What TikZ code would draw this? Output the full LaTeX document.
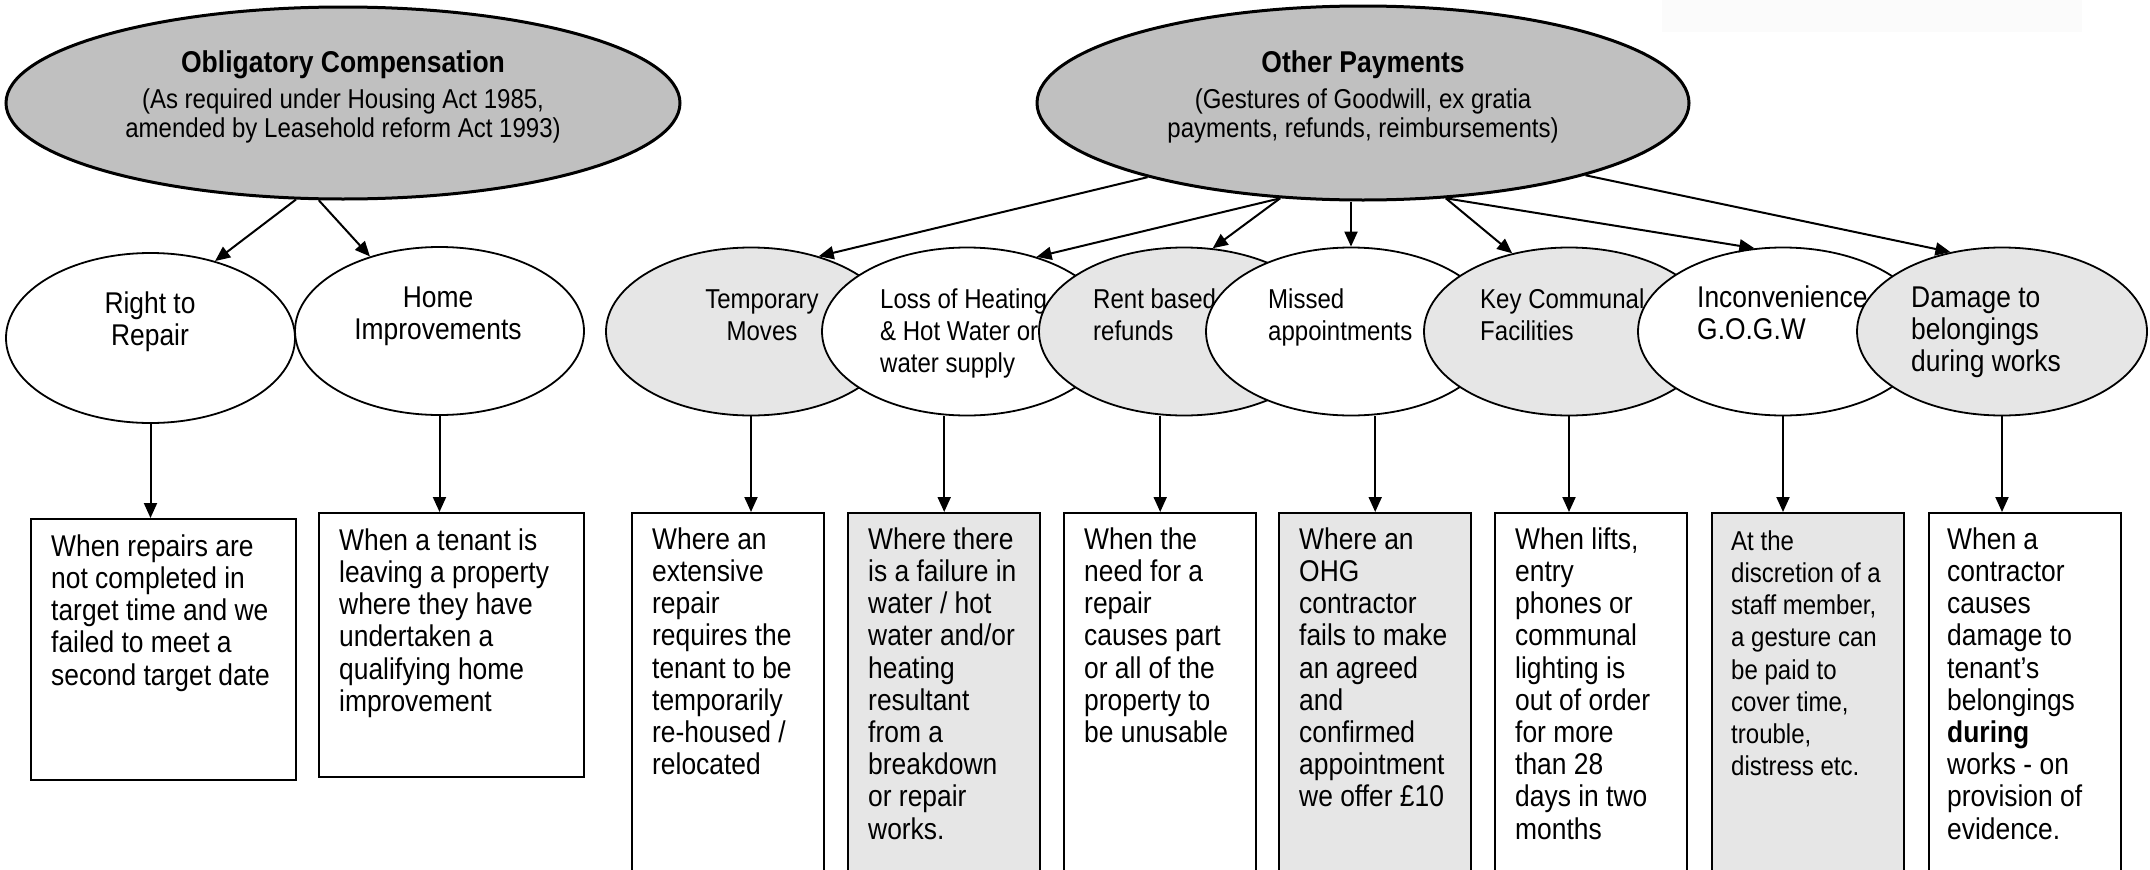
\documentclass[tikz,border=0pt]{standalone}
\usepackage{fontspec}
\setmainfont{Liberation Sans}
\newfontfamily\nrw[FakeStretch=0.88]{Liberation Sans}
\usetikzlibrary{shapes.geometric,arrows.meta}
\definecolor{hdrgray}{HTML}{C0C0C0}
\definecolor{ltgray}{HTML}{E6E6E6}
\definecolor{faintgray}{HTML}{FBFBFB}
\newcommand\FontL{\nrw\fontsize{30}{32.2}\selectfont}
\newcommand\FontM{\nrw\fontsize{27.3}{32.2}\selectfont}
\newcommand\FontHB{\nrw\bfseries\fontsize{30.1}{29}\selectfont}
\newcommand\FontHR{\nrw\fontsize{27.3}{29}\selectfont}
\newcommand\Fst{\rule{0pt}{25pt}}
\begin{document}
\begin{tikzpicture}[x=1pt,y=-1pt,
  topell/.style={ellipse, draw, line width=3pt, fill=hdrgray, inner sep=0pt},
  rowell/.style={ellipse, draw, line width=1.8pt, fill=white, inner sep=0pt, minimum width=290, minimum height=168},
  rowellg/.style={rowell, fill=ltgray},
  hdrtxt/.style={inner sep=0pt, anchor=north, align=center, font=\FontHR},
  ltxt/.style={inner sep=0pt, anchor=north west, align=left, font=\FontL},
  mtxt/.style={inner sep=0pt, anchor=north west, align=left, font=\FontM},
  ctxtL/.style={inner sep=0pt, anchor=north, align=center, font=\FontL},
  ctxtM/.style={inner sep=0pt, anchor=north, align=center, font=\FontM},
  boxw/.style={draw, line width=2.4pt, fill=white, inner sep=0pt, anchor=north west, minimum width=192, minimum height=420},
  boxg/.style={boxw, fill=ltgray},
  arr/.style={line width=2pt, -{Triangle[length=15pt,width=13pt]}}]
\clip (0,0) rectangle (2150,870);
\fill[white] (0,0) rectangle (2150,870);
\fill[faintgray] (1662,0) rectangle (2082,32);

% header ellipses
\node[topell, minimum width=674, minimum height=192] (oc) at (343,103) {};
\node[hdrtxt] (octxt) at (343,47) {{\FontHB\Fst Obligatory Compensation}\\[7pt](As required under Housing Act 1985,\\amended by Leasehold reform Act 1993)};
\node[topell, minimum width=652, minimum height=194] (op) at (1363,103) {};
\node[hdrtxt] (optxt) at (1363,47) {{\FontHB\Fst Other Payments}\\[7pt](Gestures of Goodwill, ex gratia\\payments, refunds, reimbursements)};

% left row ellipses
\node[rowell, minimum width=289, minimum height=170] (rr) at (150.5,338) {};
\node[ctxtL] (rrtxt) at (150,288) {\Fst Right to\\Repair};
\node[rowell, minimum width=289, minimum height=168] (hi) at (439.5,331) {};
\node[ctxtL] (hitxt) at (438,282) {\Fst Home\\Improvements};

% right row ellipses
\node[rowellg] (tm) at (751,331.5) {};
\node[ctxtM] (tmtxt) at (762,283) {\Fst Temporary\\Moves};
\node[rowell] (lh) at (967,331.5) {};
\node[mtxt] (lhtxt) at (880,283) {\Fst Loss of Heating\\\& Hot Water or\\water supply};
\node[rowellg] (rb) at (1184,331.5) {};
\node[mtxt] (rbtxt) at (1093,283) {\Fst Rent based\\refunds};
\node[rowell] (mi) at (1351,331.5) {};
\node[mtxt] (mitxt) at (1268,283) {\Fst Missed\\appointments};
\node[rowellg] (kc) at (1569,331.5) {};
\node[mtxt] (kctxt) at (1480,283) {\Fst Key Communal\\Facilities};
\node[rowell] (ic) at (1783,331.5) {};
\node[ltxt] (ictxt) at (1697,282) {\Fst Inconvenience\\G.O.G.W};
\node[rowellg] (dm) at (2002,331.5) {};
\node[ltxt] (dmtxt) at (1911,282) {\Fst Damage to\\belongings\\during works};

% boxes
\node[boxw, minimum width=265, minimum height=261] (b1) at (30,518) {};
\node[ltxt] (b1txt) at (51,531) {\Fst When repairs are\\not completed in\\target time and we\\failed to meet a\\second target date};
\node[boxw, minimum width=265, minimum height=264] (b2) at (318,512) {};
\node[ltxt] (b2txt) at (339,525) {\Fst When a tenant is\\leaving a property\\where they have\\undertaken a\\qualifying home\\improvement};
\node[boxw] (b3) at (631,512) {};
\node[ltxt] (b3txt) at (652,524) {\Fst Where an\\extensive\\repair\\requires the\\tenant to be\\temporarily\\re-housed /\\relocated};
\node[boxg] (b4) at (847,512) {};
\node[ltxt] (b4txt) at (868,524) {\Fst Where there\\is a failure in\\water / hot\\water and/or\\heating\\resultant\\from a\\breakdown\\or repair\\works.};
\node[boxw] (b5) at (1063,512) {};
\node[ltxt] (b5txt) at (1084,524) {\Fst When the\\need for a\\repair\\causes part\\or all of the\\property to\\be unusable};
\node[boxg] (b6) at (1278,512) {};
\node[ltxt] (b6txt) at (1299,524) {\Fst Where an\\OHG\\contractor\\fails to make\\an agreed\\and\\confirmed\\appointment\\we offer £10};
\node[boxw] (b7) at (1494,512) {};
\node[ltxt] (b7txt) at (1515,524) {\Fst When lifts,\\entry\\phones or\\communal\\lighting is\\out of order\\for more\\than 28\\days in two\\months};
\node[boxg] (b8) at (1711,512) {};
\node[mtxt] (b8txt) at (1731,525) {\Fst At the\\discretion of a\\staff member,\\a gesture can\\be paid to\\cover time,\\trouble,\\distress etc.};
\node[boxw] (b9) at (1928,512) {};
\node[ltxt] (b9txt) at (1947,524) {\Fst When a\\contractor\\causes\\damage to\\tenant’s\\belongings\\\textbf{during}\\works - on\\provision of\\evidence.};

% arrows from headers
\draw[arr] (oc.244) -- (rr.50);
\draw[arr] (oc.256) -- (hi.133);
\draw[arr] (op.199) -- (tm.48);
\draw[arr] (op.229) -- (lh.47);
\draw[arr] (op.229) -- (rb.71);
\draw[arr] (mi.north |- op.south) -- (mi.north);
\draw[arr] (op.311) -- (kc.126);
\draw[arr] (op.311) -- (ic.109);
\draw[arr] (op.342) -- (dm.123);

% arrows to boxes
\draw[arr] (rr.south) -- (rr.south |- b1.north);
\draw[arr] (hi.south) -- (hi.south |- b2.north);
\draw[arr] (tm.south) -- (tm.south |- b3.north);
\draw[arr] (lh.south -| b4.north) -- (b4.north);
\draw[arr] (rb.south -| b5.north) -- (b5.north);
\draw[arr] (mi.south -| b6.north) -- (b6.north);
\draw[arr] (kc.south) -- (kc.south |- b7.north);
\draw[arr] (ic.south) -- (ic.south |- b8.north);
\draw[arr] (dm.south) -- (dm.south |- b9.north);
\end{tikzpicture}
\end{document}
